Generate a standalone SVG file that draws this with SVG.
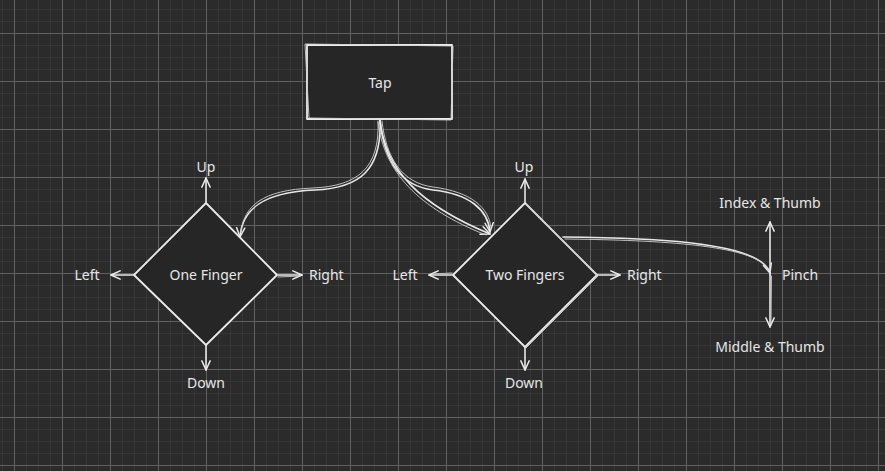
<svg xmlns="http://www.w3.org/2000/svg" width="885" height="471" viewBox="0 0 885 471">
<style>
.ln{fill:none;stroke:#e8e8e8;stroke-width:1.6;stroke-linecap:round;stroke-linejoin:round}
.ln2{fill:none;stroke:#cfcfcf;stroke-width:0.9;stroke-linecap:round;stroke-linejoin:round}
.nd{fill:#262626;stroke:#ececec;stroke-width:1.8;stroke-linejoin:round}
.nd2{fill:none;stroke:#d0d0d0;stroke-width:0.9}
.t{font-family:"Noto Sans","Open Sans",sans-serif;font-size:14px;fill:#e6e6e6;dominant-baseline:central}
.c{text-anchor:middle}
</style>
<defs>
<pattern id="grid" x="14" y="33" width="48" height="48" patternUnits="userSpaceOnUse">
<rect width="48" height="48" fill="#2b2b2b"/>
<path d="M12.5,0V48M24.5,0V48M36.5,0V48M0,12.5H48M0,24.5H48M0,36.5H48" stroke="#363636" stroke-width="1"/>
<path d="M0.5,0V48M0,0.5H48" stroke="#606060" stroke-width="1"/>
</pattern>
<marker id="ah" viewBox="0 0 12 12" refX="11" refY="6" markerWidth="11" markerHeight="11" markerUnits="userSpaceOnUse" orient="auto">
<path d="M1,1.5 L11,6 L1,10.5" fill="none" stroke="#ececec" stroke-width="1.6" stroke-linecap="round" stroke-linejoin="round"/>
</marker>
</defs>
<rect width="885" height="471" fill="url(#grid)"/>

<g id="connectors">
<path class="ln" d="M380,120 C382,170 360,188 315,190 C262,192 242,210 240,237" marker-end="url(#ah)"/>
<path class="ln2" d="M378,121 C380,168 358,186 313,188 C262,190 244,206 241,232"/>
<path class="ln" d="M380,120 C384,160 400,186 433,190 C470,194 488,210 490,232" marker-end="url(#ah)"/>
<path class="ln2" d="M382,121 C386,158 402,183 433,187 C472,192 489,208 491,228"/>
<path class="ln" d="M380,120 C385,170 420,205 490,234" marker-end="url(#ah)"/>
<path class="ln2" d="M378,122 C384,172 418,208 486,235"/>
<path class="ln" d="M563,237 C640,238 760,240 770,273" marker-end="url(#ah)"/>
<path class="ln2" d="M565,239 C642,240 758,243 768,270"/>

<path class="ln" d="M206,202 L206,178" marker-end="url(#ah)"/>
<path class="ln" d="M206,345 L206,370" marker-end="url(#ah)"/>
<path class="ln" d="M134,275 L111,275" marker-end="url(#ah)"/>
<path class="ln" d="M278,275 L302,275" marker-end="url(#ah)"/>
<path class="ln2" d="M278,277 L300,276"/>

<path class="ln" d="M525,202 L525,179" marker-end="url(#ah)"/>
<path class="ln" d="M525,347 L525,370" marker-end="url(#ah)"/>
<path class="ln" d="M452,275 L429,275" marker-end="url(#ah)"/>
<path class="ln2" d="M452,273 L432,274"/>
<path class="ln" d="M597,275 L620,275" marker-end="url(#ah)"/>

<path class="ln" d="M770,275 L770,222" marker-end="url(#ah)"/>
<path class="ln" d="M770,275 L770,327" marker-end="url(#ah)"/>
<path class="ln2" d="M771.5,276 L771,325"/>
</g>

<g id="tap">
<rect class="nd" x="307" y="45" width="145" height="74"/>
<path class="nd2" d="M305,44 L453,46 L451,120 L309,118 Z"/>
<text class="t c" x="380" y="82">Tap</text>
</g>

<g id="one-finger">
<path class="nd" d="M206,203 L277,275 L206,345 L134,275 Z"/>
<text class="t c" x="206" y="274">One Finger</text>
</g>

<g id="two-fingers">
<path class="nd" d="M525,203 L597,275 L525,347 L453,275 Z"/>
<path class="nd2" d="M526,204 L598,276 L526,348"/>
<text class="t c" x="525" y="274">Two Fingers</text>
</g>

<g id="one-up"><text class="t c" x="206" y="166">Up</text></g>
<g id="one-down"><text class="t c" x="206" y="382">Down</text></g>
<g id="one-left"><text class="t c" x="87" y="274">Left</text></g>
<g id="one-right"><text class="t" x="309" y="274">Right</text></g>

<g id="two-up"><text class="t c" x="524" y="166">Up</text></g>
<g id="two-down"><text class="t c" x="524" y="382">Down</text></g>
<g id="two-left"><text class="t c" x="405" y="274">Left</text></g>
<g id="two-right"><text class="t" x="627" y="274">Right</text></g>

<g id="pinch"><text class="t" x="782" y="274">Pinch</text></g>
<g id="index-thumb"><text class="t c" x="770" y="202">Index &amp; Thumb</text></g>
<g id="middle-thumb"><text class="t c" x="770" y="346">Middle &amp; Thumb</text></g>
</svg>
